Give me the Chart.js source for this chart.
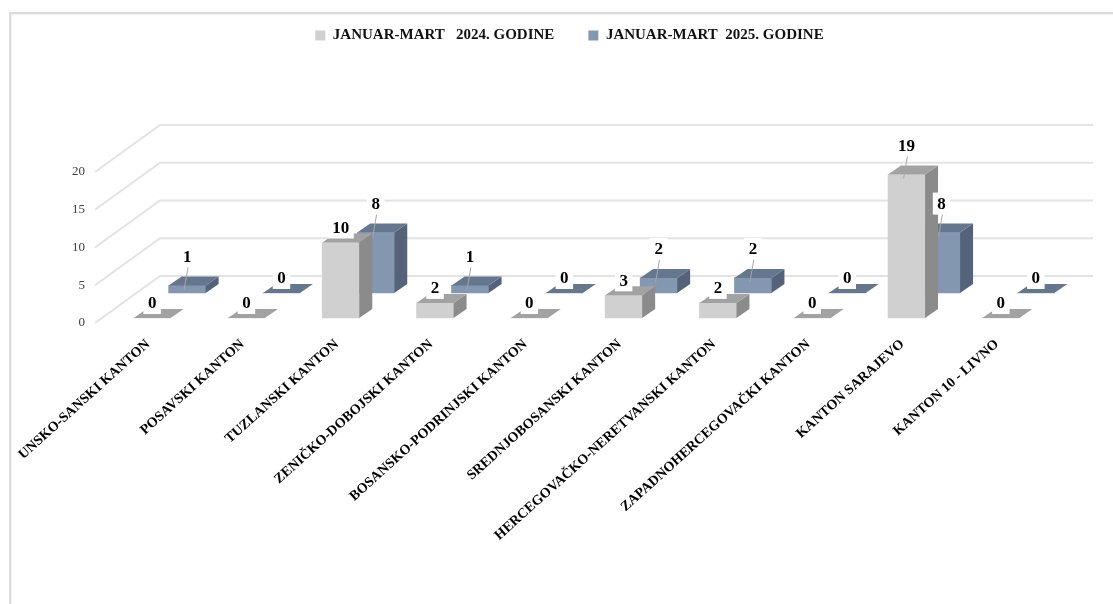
<!DOCTYPE html>
<html>
<head>
<meta charset="utf-8">
<script src="https://cdn.jsdelivr.net/npm/chart.js@4"></script>
<style>
  html, body { margin: 0; padding: 0; background: #fff; }
  #wrap { position: relative; width: 1113px; height: 604px; overflow: hidden; }
  #frame { position: absolute; left: 9px; top: 12px; right: -10px; bottom: -10px;
           border-top: 2px solid #dcdcdc; border-left: 2px solid #dcdcdc;
           box-shadow: inset 1px 1px 2px rgba(0,0,0,0.06); }
  #chart { position: absolute; left: 0; top: 0; }
</style>
</head>
<body>
<div id="wrap">
  <div id="frame"></div>
  <canvas id="chart" width="1113" height="604"></canvas>
</div>
<script>
const categories = [
  'UNSKO-SANSKI KANTON', 'POSAVSKI KANTON', 'TUZLANSKI KANTON', 'ZENIČKO-DOBOJSKI KANTON',
  'BOSANSKO-PODRINJSKI KANTON', 'SREDNJOBOSANSKI KANTON', 'HERCEGOVAČKO-NERETVANSKI KANTON',
  'ZAPADNOHERCEGOVAČKI KANTON', 'KANTON SARAJEVO', 'KANTON 10 - LIVNO'
];
const seriesNames = ['JANUAR-MART   2024. GODINE', 'JANUAR-MART  2025. GODINE'];
const values2024 = [0, 0, 10, 2, 0, 3, 2, 0, 19, 0];
const values2025 = [1, 0, 8, 1, 0, 2, 2, 0, 8, 0];
const yTicks = [0, 5, 10, 15, 20];

// 3d look
const DX = 13, DY = -9;          // depth of top / side faces
const ROW_X = 35, ROW_Y = -25;   // second series sits one row further back
const faces = [
  { front: '#d0d0d0', top: '#a2a2a2', side: '#8b8b8b' },
  { front: '#8497b0', top: '#65778e', side: '#55637a' }
];
const serif = 'Liberation Serif, DejaVu Serif, serif';

const bar3d = {
  id: 'bar3d',
  beforeDatasetsDraw(chart) {
    const { ctx, chartArea, scales } = chart;
    ctx.save();
    ctx.strokeStyle = '#e3e3e3';
    ctx.lineWidth = 2;
    yTicks.forEach(v => {
      const py = scales.y.getPixelForValue(v);
      ctx.beginPath();
      ctx.moveTo(chartArea.left - 10, py + 5);
      ctx.lineTo(chartArea.left + 55, py - 42);
      ctx.lineTo(chartArea.right + 45, py - 42);
      ctx.stroke();
    });
    ctx.restore();
  },
  beforeDatasetDraw(chart, args) {
    chart.ctx.save();
    if (args.index === 1) chart.ctx.translate(ROW_X, ROW_Y);
  },
  afterDatasetDraw(chart, args) {
    const ctx = chart.ctx;
    const c = faces[args.index];
    args.meta.data.forEach(bar => {
      const { x, y, base, width } = bar.getProps(['x', 'y', 'base', 'width'], true);
      const l = x - width / 2, r = x + width / 2;
      ctx.fillStyle = c.side;
      ctx.beginPath();
      ctx.moveTo(r, y); ctx.lineTo(r + DX, y + DY);
      ctx.lineTo(r + DX, base + DY); ctx.lineTo(r, base);
      ctx.closePath(); ctx.fill();
      ctx.fillStyle = c.top;
      ctx.beginPath();
      ctx.moveTo(l, y); ctx.lineTo(r, y);
      ctx.lineTo(r + DX, y + DY); ctx.lineTo(l + DX, y + DY);
      ctx.closePath(); ctx.fill();
    });
    ctx.restore();
  },
  afterDatasetsDraw(chart) {
    const ctx = chart.ctx;
    ctx.save();
    ctx.font = 'bold 17px ' + serif;
    ctx.textAlign = 'center';
    ctx.textBaseline = 'middle';
    [1, 0].forEach(di => {
      const ds = chart.data.datasets[di];
      const meta = chart.getDatasetMeta(di);
      const sx = di === 1 ? ROW_X : 0, sy = di === 1 ? ROW_Y : 0;
      meta.data.forEach((bar, i) => {
        const v = ds.data[i];
        const lifted = (di === 1 && v > 0) || v >= 15;
        const cx = bar.x + sx, top = bar.y + sy;
        const cy = top - (lifted ? 29 : 15);
        if (lifted) {
          ctx.strokeStyle = '#a6a6a6';
          ctx.lineWidth = 1;
          ctx.beginPath();
          ctx.moveTo(cx + 1, cy + 10);
          ctx.lineTo(cx - 3, top + 4);
          ctx.stroke();
        }
        const txt = String(v);
        const w = ctx.measureText(txt).width + 9;
        ctx.fillStyle = '#fff';
        ctx.fillRect(cx - w / 2, cy - 11, w, 22);
        ctx.fillStyle = '#000';
        ctx.fillText(txt, cx, cy + 1);
      });
    });
    ctx.restore();
  }
};

new Chart(document.getElementById('chart'), {
  type: 'bar',
  data: {
    labels: categories,
    datasets: [
      { label: seriesNames[0], data: values2024, backgroundColor: faces[0].front },
      { label: seriesNames[1], data: values2025, backgroundColor: faces[1].front }
    ]
  },
  options: {
    responsive: false,
    animation: false,
    layout: { padding: { top: -6, right: 0, left: 26, bottom: 0 } },
    datasets: { bar: { grouped: false, barThickness: 37, borderWidth: 0, clip: false } },
    plugins: {
      legend: {
        position: 'top',
        labels: {
          boxWidth: 10, boxHeight: 10, padding: 34, color: '#111',
          font: { family: serif, size: 15, weight: 'bold' }
        }
      },
      tooltip: { enabled: false }
    },
    scales: {
      x: {
        grid: { display: false },
        border: { display: false },
        ticks: {
          autoSkip: false, minRotation: 42, maxRotation: 42, padding: 10, labelOffset: -4,
          color: '#000', font: { family: serif, size: 14, weight: 'bold' }
        },
        afterFit(s) { s.height = 286; }
      },
      x2: {
        position: 'top',
        grid: { display: false },
        border: { display: false },
        ticks: { display: false },
        afterFit(s) { s.height = 114; }
      },
      y: {
        min: 0, max: 20,
        grid: { display: false },
        border: { display: false },
        ticks: {
          stepSize: 5, padding: 12, labelOffset: 5, color: '#404040',
          font: { family: serif, size: 13 }
        },
        afterFit(s) { s.width = 79; }
      },
      y2: {
        position: 'right',
        grid: { display: false },
        border: { display: false },
        ticks: { display: false },
        afterFit(s) { s.width = 65; }
      }
    }
  },
  plugins: [bar3d]
});
</script>
</body>
</html>
